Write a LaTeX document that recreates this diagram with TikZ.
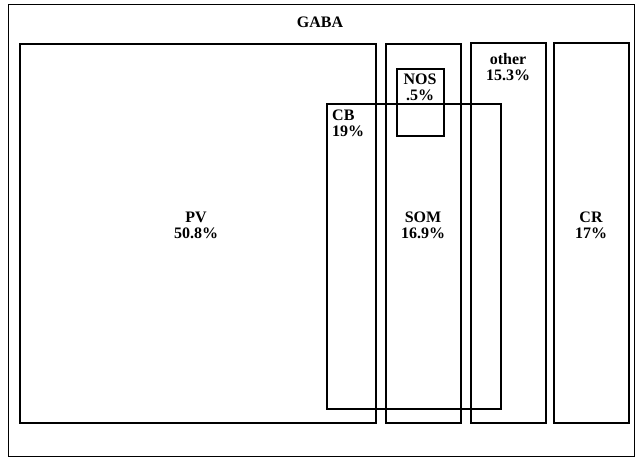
\documentclass[tikz,border=0pt]{standalone}
\usepackage{fontspec}
\setmainfont{Liberation Serif}
\usepackage{tikz}
\usetikzlibrary{positioning}

\begin{document}
\begin{tikzpicture}[
    x=1pt, y=-1pt,
    box/.style={draw, line width=1.2pt},
    lbl/.style={font=\fontsize{16}{16}\selectfont\bfseries, align=center,
                inner sep=0pt},
  ]
  \useasboundingbox (0,0) rectangle (636,457);

  %% GABA (outer frame)
  \draw[box, line width=1pt] (8,5) rectangle (634,456);
  \node[lbl] (gaba) at (320,22) {GABA};

  %% PV
  \draw[box] (20,44) rectangle (376,423);
  \node[lbl] (pv) at (196,225) {PV\\50.8\%};

  %% SOM
  \draw[box] (386,44) rectangle (461,423);
  \node[lbl] (som) at (423,225) {SOM\\16.9\%};

  %% other
  \draw[box] (471,43) rectangle (546,423);
  \node[lbl] (other) at (508,67) {other\\15.3\%};

  %% CR
  \draw[box] (554,43) rectangle (629,423);
  \node[lbl] (cr) at (591,225) {CR\\17\%};

  %% CB (overlapping PV, SOM and other)
  \draw[box] (327,104) rectangle (501,409);
  \node[lbl, align=left, anchor=north west] (cb) at (332,110) {CB\\19\%};

  %% NOS (inside SOM)
  \draw[box] (397,69) rectangle (444,136);
  \node[lbl] (nos) at (420,87) {NOS\\.5\%};
\end{tikzpicture}
\end{document}
